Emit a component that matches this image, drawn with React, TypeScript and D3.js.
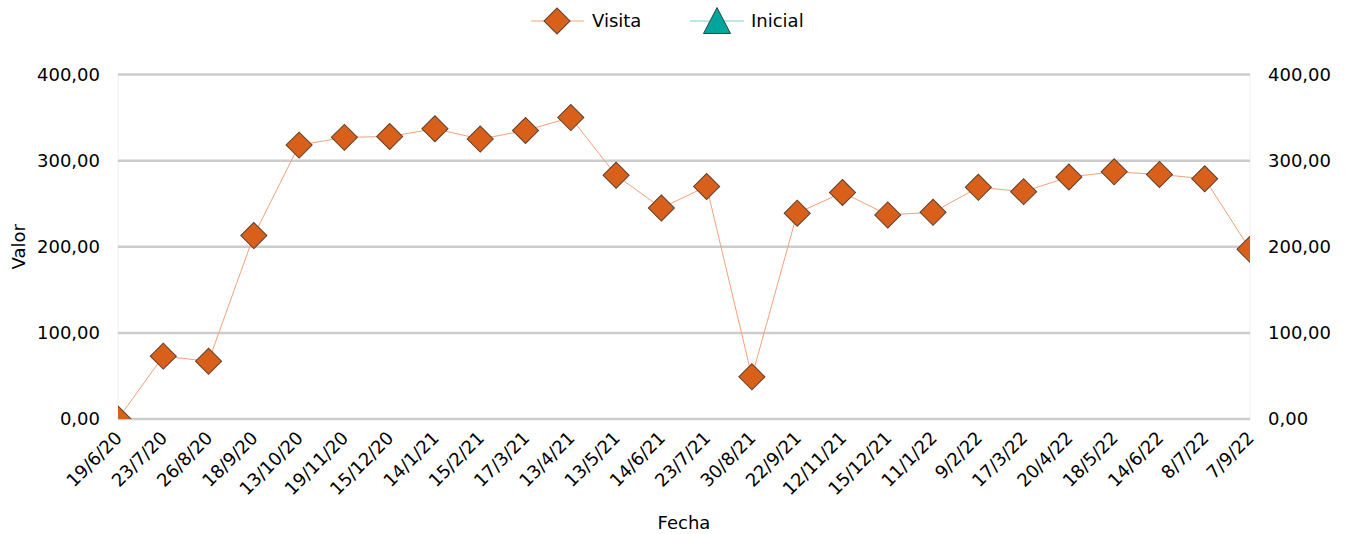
import { useEffect, useRef } from 'react';
import * as d3 from 'd3';

const fechas = [
  '19/6/20', '23/7/20', '26/8/20', '18/9/20', '13/10/20', '19/11/20', '15/12/20',
  '14/1/21', '15/2/21', '17/3/21', '13/4/21', '13/5/21', '14/6/21', '23/7/21',
  '30/8/21', '22/9/21', '12/11/21', '15/12/21', '11/1/22', '9/2/22', '17/3/22',
  '20/4/22', '18/5/22', '14/6/22', '8/7/22', '7/9/22',
];

const visita = [
  0, 73, 67, 213, 318, 327, 328, 337, 325, 335, 350, 283, 245, 270,
  49, 239, 263, 237, 240, 269, 264, 281, 287, 284, 279, 197,
];

const yTicks = [0, 100, 200, 300, 400];

const W = 1345;
const H = 534;
const margin = { top: 74.5, right: 95, bottom: 115, left: 118 };
const font = 'DejaVu Sans, Verdana, sans-serif';

const fmt = (v: number) => v.toFixed(2).replace('.', ',');

const App = () => {
  const ref = useRef<SVGSVGElement>(null);

  useEffect(() => {
    const svg = d3.select(ref.current);
    svg.selectAll('*').remove();

    const x0 = margin.left;
    const x1 = W - margin.right;
    const y0 = H - margin.bottom;
    const y1 = margin.top;

    const x = d3.scalePoint<string>().domain(fechas).range([x0, x1]);
    const y = d3.scaleLinear().domain([0, 400]).range([y0, y1]);

    // plot area borders (faint)
    svg.append('line')
      .attr('x1', x0).attr('x2', x0).attr('y1', y1).attr('y2', y0)
      .attr('stroke', '#eeeeee').attr('stroke-width', 1);
    svg.append('line')
      .attr('x1', x1).attr('x2', x1).attr('y1', y1).attr('y2', y0)
      .attr('stroke', '#eeeeee').attr('stroke-width', 1);

    // gridlines
    svg.append('g')
      .selectAll('line')
      .data(yTicks)
      .enter()
      .append('line')
      .attr('x1', x0)
      .attr('x2', x1)
      .attr('y1', (d) => y(d))
      .attr('y2', (d) => y(d))
      .attr('stroke', '#cccccc')
      .attr('stroke-width', 2.5);

    // y labels left and right
    const labels = svg.append('g').attr('font-family', font).attr('font-size', 18).attr('fill', '#000');
    labels.selectAll('.yl')
      .data(yTicks)
      .enter()
      .append('text')
      .attr('x', 100)
      .attr('y', (d) => y(d))
      .attr('dy', '0.36em')
      .attr('text-anchor', 'end')
      .text(fmt);
    labels.selectAll('.yr')
      .data(yTicks)
      .enter()
      .append('text')
      .attr('x', 1268)
      .attr('y', (d) => y(d))
      .attr('dy', '0.36em')
      .attr('text-anchor', 'start')
      .text(fmt);

    // x labels
    labels.selectAll('.xl')
      .data(fechas)
      .enter()
      .append('text')
      .attr('transform', (d) => `translate(${(x(d) as number) - 4},${y0 + 11}) rotate(-45)`)
      .attr('dy', '0.71em')
      .attr('text-anchor', 'end')
      .text((d) => d);

    // axis titles
    labels.append('text')
      .attr('x', (x0 + x1) / 2)
      .attr('y', 529)
      .attr('text-anchor', 'middle')
      .text('Fecha');
    labels.append('text')
      .attr('transform', `translate(25,${(y0 + y1) / 2}) rotate(-90)`)
      .attr('text-anchor', 'middle')
      .text('Valor');

    // clip
    svg.append('defs')
      .append('clipPath')
      .attr('id', 'plot-clip')
      .append('rect')
      .attr('x', x0)
      .attr('y', y1 - 20)
      .attr('width', x1 - x0)
      .attr('height', y0 - y1 + 20);

    const plot = svg.append('g').attr('clip-path', 'url(#plot-clip)');

    const line = d3.line<number>()
      .x((_, i) => x(fechas[i]) as number)
      .y((d) => y(d));

    plot.append('path')
      .datum(visita)
      .attr('fill', 'none')
      .attr('stroke', '#f4a07a')
      .attr('stroke-width', 1)
      .attr('d', line);

    const diamond = d3.symbol().type(d3.symbolSquare).size(340);

    plot.selectAll('.pt')
      .data(visita)
      .enter()
      .append('path')
      .attr('d', diamond as any)
      .attr('transform', (d, i) => `translate(${x(fechas[i])},${y(d)}) rotate(45)`)
      .attr('fill', '#d9601a')
      .attr('stroke', '#5a4030')
      .attr('stroke-width', 1);

    // legend
    const lg = svg.append('g').attr('font-family', font).attr('font-size', 18);
    lg.append('line')
      .attr('x1', 531).attr('x2', 584).attr('y1', 21).attr('y2', 21)
      .attr('stroke', '#f7c0a4').attr('stroke-width', 1.5);
    lg.append('path')
      .attr('d', diamond as any)
      .attr('transform', 'translate(557,21) rotate(45)')
      .attr('fill', '#d9601a')
      .attr('stroke', '#5a4030')
      .attr('stroke-width', 1);
    lg.append('text').attr('x', 592).attr('y', 21).attr('dy', '0.36em').text('Visita');

    lg.append('line')
      .attr('x1', 690).attr('x2', 744).attr('y1', 21).attr('y2', 21)
      .attr('stroke', '#a8e0e0').attr('stroke-width', 1.5);
    lg.append('path')
      .attr('d', 'M0,-13L13.5,13L-13.5,13Z')
      .attr('transform', 'translate(717,20.5)')
      .attr('fill', '#00a59e')
      .attr('stroke', '#2a4a48')
      .attr('stroke-width', 1);
    lg.append('text').attr('x', 751).attr('y', 21).attr('dy', '0.36em').text('Inicial');
  }, []);

  return (
    <svg
      ref={ref}
      width={W}
      height={H}
      style={{ display: 'block', position: 'absolute', left: 0, top: 0 }}
    />
  );
};

export default App;
